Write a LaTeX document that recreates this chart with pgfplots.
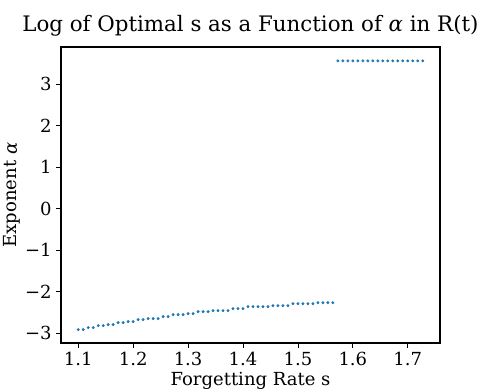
\documentclass[border=0pt]{standalone}
\usepackage{pgfplots}
\pgfplotsset{compat=1.18}
\usepackage{fontspec}
\setmainfont{DejaVu Serif}
\definecolor{mplblue}{HTML}{1F77B4}

\begin{document}
\begin{tikzpicture}
% 1px = 0.75pt; page is 490x392 px, axis box from (61,343) to (440,47)
\path[use as bounding box] (-45.75pt,-36.75pt) rectangle (321.75pt,257.25pt);
\begin{axis}[
  scale only axis,
  width=284.25pt, height=222pt,
  at={(0,0)}, anchor=south west,
  xmin=1.0686, xmax=1.7587,
  ymin=-3.235, ymax=3.894,
  xtick={1.1,1.2,1.3,1.4,1.5,1.6,1.7},
  xticklabels={1.1,1.2,1.3,1.4,1.5,1.6,1.7},
  ytick={-3,-2,-1,0,1,2,3},
  yticklabels={−3,−2,−1,0,1,2,3},
  tick align=outside,
  major tick length=3.5pt,
  tick style={black, line width=0.6pt},
  axis line style={line width=1.1pt},
  xtick pos=bottom, ytick pos=left,
  ticklabel style={font=\fontsize{13.5}{16}\selectfont},
  title={Log of Optimal s as a Function of \textit{α} in R(t)},
  title style={font=\fontsize{16}{19}\selectfont, at={(axis description cs:0.5,1.026)}, anchor=base},
  xlabel={Forgetting Rate s},
  xlabel style={font=\fontsize{13.5}{16}\selectfont, at={(axis description cs:0.5,-0.142)}, anchor=base},
  ylabel={Exponent \textit{α}},
  ylabel style={font=\fontsize{13.5}{16}\selectfont, at={(axis description cs:-0.129,0.5)}, anchor=center},
]
\addplot[only marks, mark=*, mark size=0.9pt, color=mplblue] table {
x y
1.1000 -2.912
1.1091 -2.912
1.1182 -2.864
1.1273 -2.864
1.1364 -2.816
1.1455 -2.816
1.1545 -2.792
1.1636 -2.792
1.1727 -2.744
1.1818 -2.744
1.1909 -2.720
1.2000 -2.720
1.2091 -2.672
1.2182 -2.672
1.2273 -2.648
1.2364 -2.648
1.2455 -2.648
1.2545 -2.600
1.2636 -2.600
1.2727 -2.552
1.2818 -2.552
1.2909 -2.552
1.3000 -2.528
1.3091 -2.528
1.3182 -2.480
1.3273 -2.480
1.3364 -2.480
1.3455 -2.456
1.3545 -2.456
1.3636 -2.456
1.3727 -2.456
1.3818 -2.408
1.3909 -2.408
1.4000 -2.408
1.4091 -2.360
1.4182 -2.360
1.4273 -2.360
1.4364 -2.360
1.4455 -2.360
1.4545 -2.336
1.4636 -2.336
1.4727 -2.336
1.4818 -2.336
1.4909 -2.288
1.5000 -2.288
1.5091 -2.288
1.5182 -2.288
1.5273 -2.288
1.5364 -2.264
1.5455 -2.264
1.5545 -2.264
1.5636 -2.264
1.5727 3.56
1.5818 3.56
1.5909 3.56
1.6000 3.56
1.6091 3.56
1.6182 3.56
1.6273 3.56
1.6364 3.56
1.6455 3.56
1.6545 3.56
1.6636 3.56
1.6727 3.56
1.6818 3.56
1.6909 3.56
1.7000 3.56
1.7091 3.56
1.7182 3.56
1.7273 3.56
};
\end{axis}
\end{tikzpicture}
\end{document}
